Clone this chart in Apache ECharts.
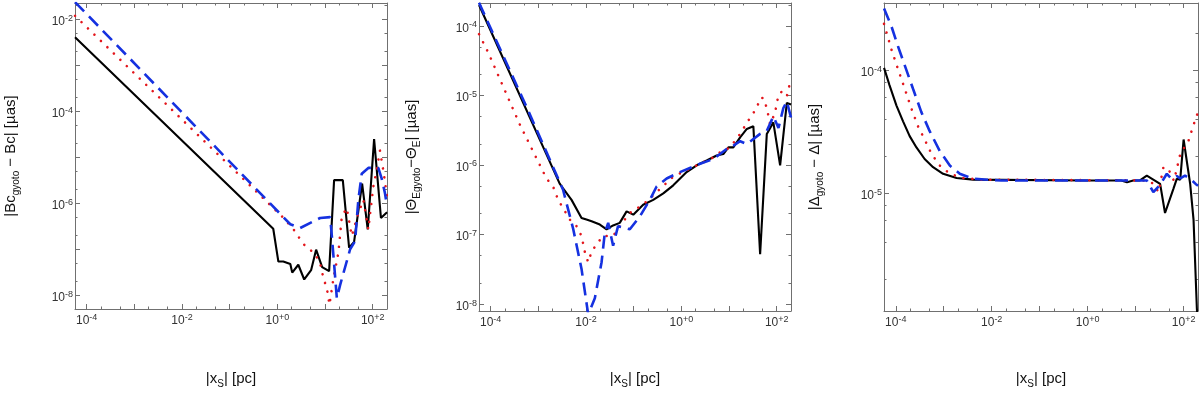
<!DOCTYPE html>
<html>
<head>
<meta charset="utf-8">
<script src="https://cdn.jsdelivr.net/npm/echarts@6.0.0/dist/echarts.min.js"></script>
<style>
  html, body { margin: 0; padding: 0; background: #fff; }
  #chart { width: 1200px; height: 394px; }
</style>
</head>
<body>
<div id="chart"></div>
<script>
// ---- data (x in pc, y in µas) ----
// panel 1: |Bc_gyoto - Bc|
const bcBlackX = [5.7e-5, 0.82, 1.05, 1.33, 1.87, 2.05, 2.75, 3.66, 5.1, 6.5, 8.7, 12.2, 15.5, 23.6, 32, 40.7, 60, 78.7, 107, 149, 200];
const bcBlackY = [4.1e-3, 2.8e-7, 5.4e-8, 5.4e-8, 4.8e-8, 3.1e-8, 4.6e-8, 2.2e-8, 3.5e-8, 9.8e-8, 4.1e-8, 3.35e-8, 3.2e-6, 3.2e-6, 1.08e-7, 1.45e-7, 2.7e-6, 2.7e-7, 2.5e-5, 4.8e-7, 6.4e-7];
const bcBlueX = [5.7e-5, 1.87, 3.0, 7.9, 12.8, 13.9, 17.7, 20.7, 33.6, 42.7, 50, 58.9, 81, 131, 154, 181, 200];
const bcBlueY = [2.4e-2, 3.5e-7, 2.9e-7, 4.8e-7, 5.0e-7, 1.95e-7, 8.6e-9, 1.66e-8, 1.0e-7, 1.5e-7, 1.19e-6, 4.4e-6, 5.9e-6, 5.9e-6, 3.5e-6, 1.65e-6, 8.5e-7];
const bcRedX = [5.7e-5, 1.35, 2.19, 3.54, 6.2, 7.9, 9.3, 10.9, 12.4, 15.0, 19.1, 22.5, 28.6, 36.4, 50, 63.7, 81, 103, 121, 142, 167, 200];
const bcRedY = [1.2e-2, 4.8e-7, 2.7e-7, 1.29e-7, 7.9e-8, 4.9e-8, 2.3e-8, 1.43e-8, 6.2e-9, 2.3e-8, 8.5e-8, 5.2e-7, 7.9e-7, 1.95e-7, 6.1e-7, 1.19e-6, 2.7e-7, 2.3e-6, 5.2e-6, 1.4e-5, 5.2e-6, 1.4e-6];

// panel 2: |ThetaE_gyoto - ThetaE|
const thBlackX = [5.7e-5, 2.8e-3, 3.3e-3, 4.97e-3, 8.05e-3, 1.02e-2, 1.31e-2, 1.95e-2, 2.7e-2, 3.7e-2, 5.1e-2, 7.1e-2, 9.8e-2, 0.158, 0.257, 0.418, 0.676, 1.29, 2.1, 3.4, 5.5, 7.6, 9.7, 12.3, 17.1, 23.6, 32.4, 44.9, 62, 85, 118, 163, 200];
const thBlackY = [2.0e-4, 5.4e-7, 4.6e-7, 3.15e-7, 1.73e-7, 1.64e-7, 1.55e-7, 1.39e-7, 1.19e-7, 1.35e-7, 1.47e-7, 2.15e-7, 1.93e-7, 2.68e-7, 3.15e-7, 3.9e-7, 5.1e-7, 7.9e-7, 9.9e-7, 1.16e-6, 1.37e-6, 1.44e-6, 1.79e-6, 1.79e-6, 2.5e-6, 3.3e-6, 3.6e-6, 5.2e-8, 2.8e-6, 4.1e-6, 9.9e-7, 7.8e-6, 7.4e-6];
const thBlueX = [5.7e-5, 6.3e-4, 3.3e-3, 5.4e-3, 8.05e-3, 1.11e-2, 1.53e-2, 2.12e-2, 2.48e-2, 2.92e-2, 3.7e-2, 4.7e-2, 8.3e-2, 0.135, 0.219, 0.303, 0.492, 0.935, 2.47, 4.7, 8.9, 12.3, 17.1, 23.6, 44.9, 62, 85, 109, 138, 163, 200];
const thBlueY = [2.15e-4, 5.8e-6, 4.4e-7, 1.19e-7, 3.2e-8, 7.1e-9, 1.21e-8, 4.0e-8, 1.06e-7, 1.47e-7, 6.9e-8, 1.32e-7, 1.19e-7, 1.83e-7, 3.16e-7, 4.9e-7, 6.4e-7, 7.9e-7, 1.04e-6, 1.22e-6, 1.7e-6, 1.89e-6, 2.2e-6, 2.0e-6, 2.8e-6, 3.1e-6, 5.0e-6, 3.4e-6, 6.6e-6, 8.2e-6, 4.8e-6];
const thRedX = [5.7e-5, 8.8e-5, 4.07e-4, 1.48e-3, 2.04e-3, 2.6e-3, 3.3e-3, 4.57e-3, 6.3e-3, 8.05e-3, 9.5e-3, 1.11e-2, 1.29e-2, 1.66e-2, 2.29e-2, 3.7e-2, 5.1e-2, 8.3e-2, 0.135, 0.186, 0.676, 1.29, 2.47, 4.7, 6.5, 10.5, 17.1, 27.7, 38.2, 44.9, 52.5, 62, 72.8, 92, 109, 128, 163, 200];
const thRedY = [7.6e-5, 4.2e-5, 3.84e-6, 6.4e-7, 4.9e-7, 3.15e-7, 2.4e-7, 1.64e-7, 1.32e-7, 9.5e-8, 5.5e-8, 4.0e-8, 5.5e-8, 7.3e-8, 9.5e-8, 9.5e-8, 1.32e-7, 2.04e-7, 2.53e-7, 2.98e-7, 6.8e-7, 8.4e-7, 1.04e-6, 1.29e-6, 1.52e-6, 1.79e-6, 2.8e-6, 4.8e-6, 6.6e-6, 9.2e-6, 9.2e-6, 6.6e-6, 3.84e-6, 5.6e-6, 1.02e-5, 1.14e-5, 9.7e-6, 1.76e-5];

// panel 3: |Delta_gyoto - Delta|
const dlBlackX = [5.7e-5, 7.4e-5, 1.03e-4, 1.42e-4, 1.95e-4, 2.7e-4, 4.0e-4, 6.0e-4, 9.7e-4, 1.85e-3, 4.1e-3, 1, 5, 6.6, 8.9, 12.3, 17.1, 32.4, 41, 61.5, 72, 85, 100, 137, 161, 189, 200];
const dlBlackY = [1.05e-4, 7.6e-5, 5.2e-5, 3.85e-5, 2.92e-5, 2.36e-5, 1.9e-5, 1.63e-5, 1.44e-5, 1.33e-5, 1.29e-5, 1.27e-5, 1.27e-5, 1.23e-5, 1.27e-5, 1.27e-5, 1.39e-5, 1.19e-5, 6.9e-6, 1.09e-5, 1.31e-5, 1.29e-5, 2.74e-5, 1.19e-5, 6.1e-6, 1.15e-6, 7.9e-7];
const dlBlueX = [5.7e-5, 8.1e-5, 1.11e-4, 1.54e-4, 2.29e-4, 3.4e-4, 5.1e-4, 8.3e-4, 1.34e-3, 2.16e-3, 4.1e-3, 1.58e-2, 17.1, 23.4, 32.4, 44.7, 56, 72, 85, 107, 138, 178, 200];
const dlBlueY = [3.2e-4, 2.3e-4, 1.58e-4, 1.1e-4, 7.1e-5, 4.6e-5, 3.2e-5, 2.2e-5, 1.68e-5, 1.44e-5, 1.31e-5, 1.27e-5, 1.27e-5, 1.02e-5, 1.17e-5, 1.44e-5, 1.31e-5, 1.38e-5, 1.32e-5, 1.39e-5, 1.31e-5, 1.19e-5, 1.15e-5];
const dlRedX = [5.7e-5, 8.1e-5, 1.11e-4, 1.54e-4, 2.12e-4, 2.92e-4, 4.0e-4, 5.6e-4, 8.3e-4, 1.34e-3, 2.5e-3, 5.7e-3, 15.8, 23.4, 30, 38, 48, 63, 85, 126, 161, 200];
const dlRedY = [2.4e-4, 1.49e-4, 1.03e-4, 7.1e-5, 4.9e-5, 3.5e-5, 2.74e-5, 2.08e-5, 1.68e-5, 1.44e-5, 1.33e-5, 1.29e-5, 1.27e-5, 1.2e-5, 1.02e-5, 1.63e-5, 1.58e-5, 1.26e-5, 2.08e-5, 2.66e-5, 3.6e-5, 4.6e-5];

// axis extents as decimal exponents, and which decades get a label
const xExpRange = [-4.245, 2.30];
const xLabelExps = [-4, -2, 0, 2];
const bcExpRange = [-8.30, -1.64];
const bcLabelExps = [-8, -6, -4, -2];
const thExpRange = [-8.10, -3.67];
const thLabelExps = [-8, -7, -6, -5, -4];
const dlExpRange = [-5.96, -3.45];
const dlLabelExps = [-5, -4];

// ---- styling ----
const FONT = 'Liberation Sans';
const frameColor = '#707070';
const tickColor = '#333';

let chart = echarts.init(document.getElementById('chart'));

function decades(r) {
  const out = [];
  for (let n = Math.ceil(r[0]); n <= Math.floor(r[1]); n++) out.push(n);
  return out;
}
function minors(r, mults) {
  const out = [];
  for (let n = Math.floor(r[0]); n <= Math.ceil(r[1]); n++) {
    mults.forEach(m => {
      const v = n + Math.log10(m);
      if (v > r[0] && v < r[1]) out.push(v);
    });
  }
  return out;
}
function powLabel(v) {
  const e = Math.round(v);
  return '10{s|' + (e < 0 ? '-' : '+') + Math.abs(e) + '}';
}

const nameStyle = {
  fontFamily: FONT, fontSize: 15, color: '#111', lineHeight: 20,
  rich: { sub: { fontFamily: FONT, fontSize: 10, color: '#111', lineHeight: 10, verticalAlign: 'bottom' } }
};

// four axes per dimension: main side (major + minor) and opposite side (major + minor)
function frameAxes(dim, grid, range, labelExps, mults, name, nameGap) {
  const sides = dim === 'x' ? ['bottom', 'top'] : ['left', 'right'];
  const axes = [];
  sides.forEach((side, k) => {
    const main = {
      type: 'value', gridIndex: grid, position: side, min: range[0], max: range[1],
      splitLine: { show: false },
      axisLine: { show: true, onZero: false, lineStyle: { color: frameColor, width: 1 } },
      axisTick: { show: true, inside: true, length: 5, customValues: decades(range), lineStyle: { color: frameColor } },
      axisLabel: { show: false }
    };
    if (k === 0) {
      main.axisLabel = {
        show: true, customValues: labelExps, formatter: powLabel,
        fontFamily: FONT, fontSize: 12, lineHeight: 16, color: tickColor,
        margin: dim === 'x' ? 4 : 2,
        padding: dim === 'x' ? 0 : [5, 0, 0, 0],
        rich: { s: { fontFamily: FONT, fontSize: 9, lineHeight: 9, verticalAlign: 'top', color: tickColor } }
      };
      main.name = name;
      main.nameLocation = 'middle';
      main.nameGap = nameGap;
      main.nameTextStyle = nameStyle;
      if (dim === 'y') main.nameRotate = 90;
    }
    axes.push(main);
    axes.push({
      type: 'value', gridIndex: grid, position: side, min: range[0], max: range[1],
      splitLine: { show: false },
      axisLine: { show: false, onZero: false },
      axisTick: { show: true, inside: true, length: 2.5, customValues: minors(range, mults), lineStyle: { color: frameColor } },
      axisLabel: { show: false }
    });
  });
  return axes;
}

function logPairs(xs, ys) {
  return xs.map((x, i) => [Math.log10(x), Math.log10(ys[i])]);
}

const styles = {
  black: { color: '#000', width: 2.1, type: 'solid' },
  red: { color: '#e3161c', width: 2.6, type: [0.01, 9], cap: 'round' },
  blue: { color: '#1531e0', width: 2.6, type: [13, 7] }
};

function curve(kind, grid, xs, ys) {
  return {
    type: 'line', xAxisIndex: grid * 4, yAxisIndex: grid * 4,
    data: logPairs(xs, ys), symbol: 'none', clip: true,
    lineStyle: styles[kind], itemStyle: { color: styles[kind].color }
  };
}

const xName = '|x{sub|S}| [pc]';

let option = {
  animation: false,
  backgroundColor: '#fff',
  grid: [
    { left: 74, top: 3, width: 313, height: 311 },
    { left: 479, top: 3, width: 312, height: 313 },
    { left: 884, top: 3, width: 314, height: 313 }
  ],
  xAxis: [
    ...frameAxes('x', 0, xExpRange, xLabelExps, [2, 5], xName, 60),
    ...frameAxes('x', 1, xExpRange, xLabelExps, [2, 5], xName, 58),
    ...frameAxes('x', 2, xExpRange, xLabelExps, [2, 5], xName, 58)
  ],
  yAxis: [
    ...frameAxes('y', 0, bcExpRange, bcLabelExps, [2, 5], '|Bc{sub|gyoto} − Bc| [µas]', 54),
    ...frameAxes('y', 1, thExpRange, thLabelExps, [2, 5], '|Θ{sub|Egyoto}−Θ{sub|E}| [µas]', 57),
    ...frameAxes('y', 2, dlExpRange, dlLabelExps, [2, 4, 6, 8], '|Δ{sub|gyoto} − Δ| [µas]', 59)
  ],
  series: [
    curve('black', 0, bcBlackX, bcBlackY),
    curve('red', 0, bcRedX, bcRedY),
    curve('blue', 0, bcBlueX, bcBlueY),
    curve('black', 1, thBlackX, thBlackY),
    curve('red', 1, thRedX, thRedY),
    curve('blue', 1, thBlueX, thBlueY),
    curve('black', 2, dlBlackX, dlBlackY),
    curve('red', 2, dlRedX, dlRedY),
    curve('blue', 2, dlBlueX, dlBlueY)
  ]
};

chart.setOption(option);
window.addEventListener('resize', () => chart.resize(), false);
</script>
</body>
</html>
